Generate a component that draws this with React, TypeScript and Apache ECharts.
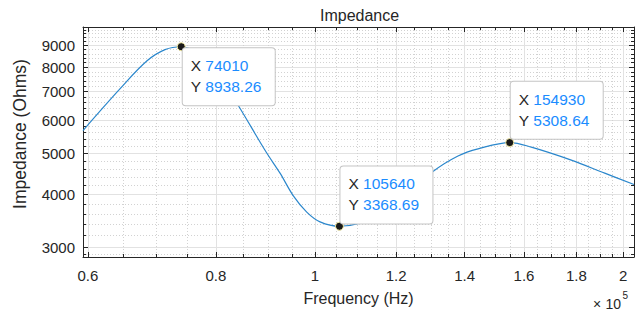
import React, { useEffect, useRef } from 'react';
import * as echarts from 'echarts';

// Curve (frequency in Hz, impedance in Ohms)
const freqHz = [59340, 64510, 68490, 71360, 74010, 77170, 80790, 84150, 89580, 92430, 95240, 98150, 101130, 105640, 110650, 117060, 123820, 130370, 137920, 144280, 154930, 162640, 177950, 191840, 204900];
const impedanceOhms = [5667, 7116, 8269, 8797, 8938.26, 8567, 7585, 6494, 5043, 4495, 3973, 3638, 3450, 3368.69, 3425, 3631, 4036, 4536, 4936, 5132, 5308.64, 5179, 4826, 4495, 4226];

// Data tips
const tipFreq = [74010, 105640, 154930];
const tipImp = [8938.26, 3368.69, 5308.64];
const tipOffsets = [[6, 6], [5.5, -55.3], [5.5, -56.3]];

// Axis ticks
const xMajorTicks = [60000, 80000, 100000, 120000, 140000, 160000, 180000, 200000];
const yMajorTicks = [3000, 4000, 5000, 6000, 7000, 8000, 9000];
const xMinorTicks: number[] = [];
for (let i = 13; i <= 40; i++) { if (i % 4 !== 0) xMinorTicks.push(i * 5000); }
const yMinorTicks: number[] = [2900];
for (let v = 3200; v <= 9800; v += 200) { if (v % 1000 !== 0) yMinorTicks.push(v); }

const X_MIN = 59340;
const X_MAX = 204900;
const Y_MIN = 2850;
const Y_MAX = 9950;

const FONT = 'Liberation Sans, Arial, Helvetica, sans-serif';
const AX = '#262626';

export default function App() {
  const ref = useRef<HTMLDivElement>(null);
  useEffect(() => {
    if (!ref.current) return;
    const chart = echarts.init(ref.current, undefined, { renderer: 'svg' });
    const xBase: any = { type: 'log', logBase: 10, min: X_MIN, max: X_MAX, gridIndex: 0, minorTick: { show: false }, minorSplitLine: { show: false } };
    const yBase: any = { type: 'log', logBase: 10, min: Y_MIN, max: Y_MAX, gridIndex: 0, minorTick: { show: false }, minorSplitLine: { show: false } };
    const major = (ticks: number[]) => ({ show: true, inside: true, length: 5, customValues: ticks, lineStyle: { color: AX, width: 1 } });
    const minor = (ticks: number[]) => ({ show: true, inside: true, length: 3, customValues: ticks, lineStyle: { color: AX, width: 1 } });
    const line = (show: boolean) => ({ show, onZero: false, lineStyle: { color: AX, width: 1 } });
    const majorGrid = { show: true, lineStyle: { color: '#e2e2e2', width: 1, type: 'solid' } };
    const minorGrid = { show: true, lineStyle: { color: '#d2d2d2', width: 1, type: [1, 2] } };
    const noLabel = { show: false };

    const option: any = {
      animation: false,
      backgroundColor: '#ffffff',
      title: {
        text: 'Impedance', left: 320, top: 7, padding: 0,
        textStyle: { fontSize: 16, fontWeight: 'normal', color: AX, fontFamily: FONT },
      },
      grid: { left: 83, right: 4, top: 27, bottom: 48, containLabel: false },
      xAxis: [
        {
          ...xBase, position: 'bottom', axisLine: line(true), axisTick: major(xMajorTicks),
          axisLabel: {
            show: true, customValues: xMajorTicks, margin: 11, color: AX, fontSize: 15, fontFamily: FONT,
            formatter: (v: number) => String(parseFloat((v / 1e5).toFixed(2))),
          },
          splitLine: majorGrid,
          name: 'Frequency (Hz)', nameLocation: 'middle', nameGap: 33,
          nameTextStyle: { fontSize: 16, color: AX, fontFamily: FONT },
        },
        { ...xBase, position: 'bottom', axisLine: line(false), axisTick: minor(xMinorTicks), axisLabel: noLabel, splitLine: minorGrid },
        { ...xBase, position: 'top', axisLine: line(true), axisTick: major(xMajorTicks), axisLabel: noLabel, splitLine: { show: false } },
        { ...xBase, position: 'top', axisLine: line(false), axisTick: minor(xMinorTicks), axisLabel: noLabel, splitLine: { show: false } },
      ],
      yAxis: [
        {
          ...yBase, position: 'left', axisLine: line(true), axisTick: major(yMajorTicks),
          axisLabel: {
            show: true, customValues: yMajorTicks, margin: 8, color: AX, fontSize: 15, fontFamily: FONT,
            formatter: (v: number) => String(Math.round(v)),
          },
          splitLine: majorGrid,
          name: 'Impedance (Ohms)', nameLocation: 'middle', nameGap: 54,
          nameTextStyle: { fontSize: 17.5, color: AX, fontFamily: FONT, padding: [0, 0, 0, 16] },
        },
        { ...yBase, position: 'left', axisLine: line(false), axisTick: minor(yMinorTicks), axisLabel: noLabel, splitLine: minorGrid },
        { ...yBase, position: 'right', axisLine: line(true), axisTick: major(yMajorTicks), axisLabel: noLabel, splitLine: { show: false } },
        { ...yBase, position: 'right', axisLine: line(false), axisTick: minor(yMinorTicks), axisLabel: noLabel, splitLine: { show: false } },
      ],
      series: [
        {
          type: 'line', xAxisIndex: 0, yAxisIndex: 0, z: 2,
          data: freqHz.map((f, i) => [f, impedanceOhms[i]]),
          showSymbol: false, smooth: 0.35,
          lineStyle: { color: '#2b87cc', width: 1.2 },
        },
        {
          type: 'scatter', xAxisIndex: 0, yAxisIndex: 0, z: 5,
          symbolSize: 8,
          itemStyle: { color: '#1a1a1a', borderColor: '#f2eaa0', borderWidth: 1, opacity: 1 },
          data: tipFreq.map((f, i) => ({
            value: [f, tipImp[i]],
            label: { position: tipOffsets[i] },
          })),
          label: {
            show: true, align: 'left', verticalAlign: 'top', opacity: 1,
            width: 74, padding: [7, 10, 8, 8],
            backgroundColor: '#ffffff', borderColor: '#c4c4c4', borderWidth: 1, borderRadius: 3,
            lineHeight: 21, fontFamily: FONT, fontSize: 15.5,
            formatter: (p: any) => `{k|X} {v|${p.value[0]}}\n{k|Y} {v|${p.value[1].toFixed(2)}}`,
            rich: {
              k: { color: AX, fontSize: 15.5, fontFamily: FONT, lineHeight: 21 },
              v: { color: '#1a8cff', fontSize: 15.5, fontFamily: FONT, lineHeight: 21 },
            },
          },
        },
      ],
      graphic: [
        { type: 'text', x: 593, y: 297, style: { text: '×', fontSize: 14, fontFamily: FONT, fill: AX, verticalAlign: 'top' } },
        { type: 'text', x: 605.5, y: 297, style: { text: '10', fontSize: 14, fontFamily: FONT, fill: AX, verticalAlign: 'top' } },
        { type: 'text', x: 622.5, y: 290.5, style: { text: '5', fontSize: 10, fontFamily: FONT, fill: AX, verticalAlign: 'top' } },
      ],
    };
    chart.setOption(option);
    return () => chart.dispose();
  }, []);
  return <div ref={ref} style={{ position: 'fixed', left: 0, top: 0, width: 638, height: 311 }} />;
}
